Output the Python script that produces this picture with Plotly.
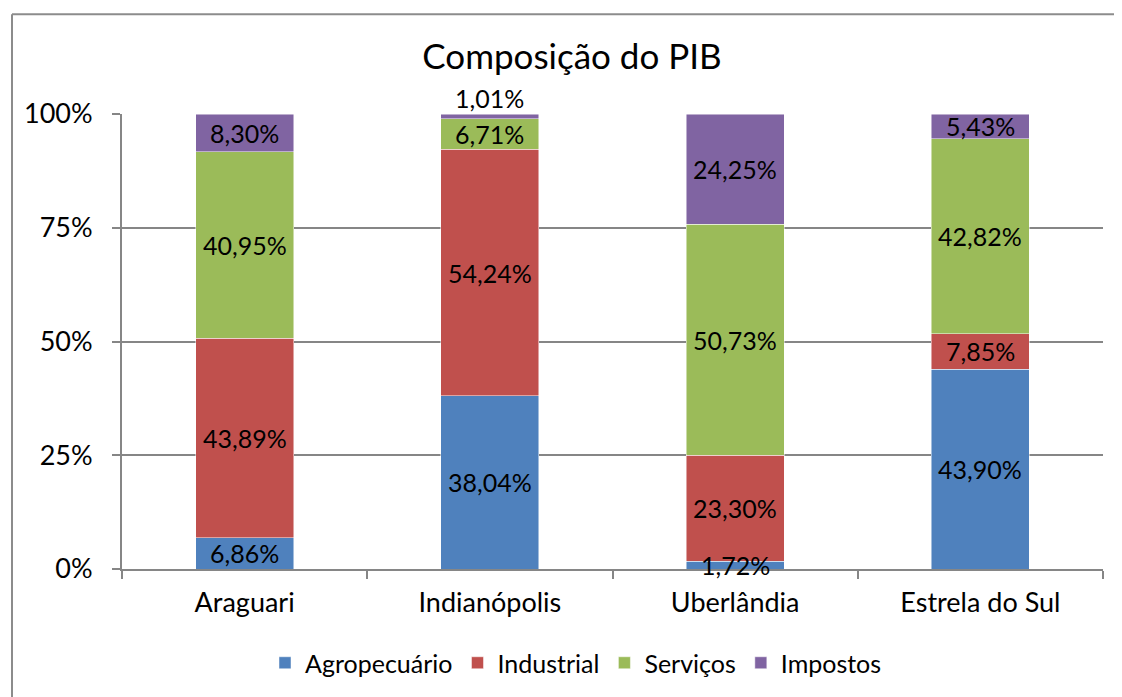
import plotly.graph_objects as go

categories = ["Araguari", "Indianópolis", "Uberlândia", "Estrela do Sul"]
series_names = ["Agropecuário", "Industrial", "Serviços", "Impostos"]
agropecuario = [6.86, 38.04, 1.72, 43.90]
industrial = [43.89, 54.24, 23.30, 7.85]
servicos = [40.95, 6.71, 50.73, 42.82]
impostos = [8.30, 1.01, 24.25, 5.43]
tick_vals = [0, 25, 50, 75, 100]
tick_text = ["0%", "25%", "50%", "75%", "100%"]
colors = ["#4F81BD", "#C0504D", "#9BBB59", "#8064A2"]

FONT = "Lato"
series = [agropecuario, industrial, servicos, impostos]

# page has an 8px body margin; figure sized so it fills the 1122x697 window
W, H = 1114, 689
L, T, R, B = 114, 106, 19, 127
PW, PH = W - L - R, H - T - B

fig = go.Figure()
for name, vals, col in zip(series_names, series, colors):
    fig.add_trace(go.Bar(
        x=categories, y=vals, name=name,
        marker=dict(color=col, line=dict(color="rgba(255,255,255,0.6)", width=0.8)),
        width=0.4,
    ))

def fmt(v):
    return f"{v:.2f}".replace(".", ",") + "%"

annotations = []
for i, cat in enumerate(categories):
    base = 0.0
    for s, vals in enumerate(series):
        v = vals[i]
        mid = base + v / 2
        yshift = 0
        if v < 1.5 and s == len(series) - 1:
            yshift = 18
        annotations.append(dict(
            x=cat, y=mid, xref="x", yref="y", text=fmt(v), showarrow=False,
            font=dict(family=FONT, size=25, color="#000000"), yshift=yshift,
        ))
        base += v

bx0 = (12 - 122) / PW
by1 = 1 + (114 - 14) / PH
border = dict(color="#8C8C8C", width=2)

fig.update_layout(
    width=W, height=H,
    paper_bgcolor="white", plot_bgcolor="white",
    margin=dict(l=L, r=R, t=T, b=B),
    barmode="stack",
    title=dict(text="Composição do PIB", x=(572 - 8) / W, xanchor="center",
               y=1 - (57 - 8) / H, yanchor="middle",
               font=dict(family=FONT, size=35, color="#000000")),
    font=dict(family=FONT, size=25, color="#000000"),
    showlegend=True,
    legend=dict(orientation="h", x=(576 - 122) / PW, xanchor="center",
                y=-(663 - 570) / PH, yanchor="middle",
                font=dict(family=FONT, size=25, color="#000000"), traceorder="normal"),
    annotations=annotations,
    xaxis=dict(
        showgrid=False, showline=True, linecolor="#868686", linewidth=2,
        ticks="outside", tickson="boundaries", ticklen=8, tickcolor="#868686", tickwidth=2,
        tickfont=dict(family=FONT, size=27, color="#000000"),
        ticklabelstandoff=9,
    ),
    yaxis=dict(
        range=[0, 100], tickvals=tick_vals, ticktext=tick_text,
        showgrid=True, gridcolor="#868686", gridwidth=1.5,
        showline=True, linecolor="#868686", linewidth=2,
        ticks="outside", ticklen=8, tickcolor="#868686", tickwidth=2,
        tickfont=dict(family=FONT, size=27, color="#000000"),
        ticklabelstandoff=14, zeroline=False,
    ),
    shapes=[
        dict(type="line", xref="paper", yref="paper", x0=bx0, x1=1.3,
             y0=by1, y1=by1, line=border, layer="below"),
        dict(type="line", xref="paper", yref="paper", x0=bx0, x1=bx0,
             y0=-0.5, y1=by1, line=border, layer="below"),
    ],
)

fig.write_html("out.html")
